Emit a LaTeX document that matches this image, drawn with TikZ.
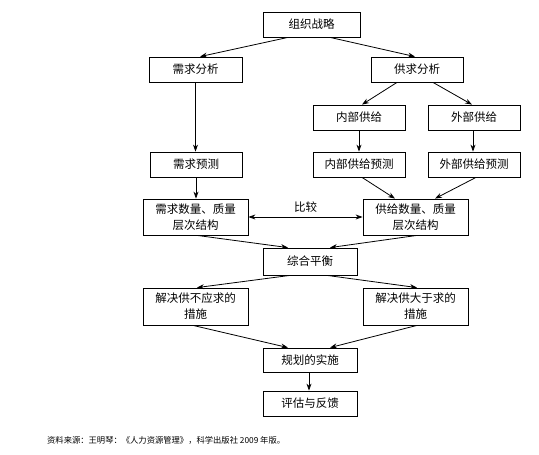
\documentclass[tikz,border=0pt]{standalone}
\usepackage{fontspec}
\newfontfamily\cjk{Noto Sans CJK SC}
\usetikzlibrary{arrows.meta,calc}
\begin{document}
\begin{tikzpicture}[x=1pt,y=-1pt,
  box/.style={draw=black,line width=0.8pt,fill=white,inner sep=0pt,align=center,
    font=\cjk\fontsize{11.5}{16}\selectfont,minimum height=25pt},
  arr/.style={draw=black,line width=0.8pt,-{Stealth[length=7pt,width=5pt]}},
  darr/.style={draw=black,line width=0.8pt,{Stealth[length=7pt,width=5pt]}-{Stealth[length=7pt,width=5pt]}}]
\useasboundingbox[fill=white] (0,0) rectangle (539,455);
% boxes
\node[box,minimum width=97pt] (zlzl) at (311.5,24.5) {组织战略};
\node[box,minimum width=93pt] (xqfx) at (195.5,69.5) {需求分析};
\node[box,minimum width=92pt] (gqfx) at (417,69.5) {供求分析};
\node[box,minimum width=92pt] (nbgj) at (359,117.5) {内部供给};
\node[box,minimum width=92pt] (wbgj) at (474,117.5) {外部供给};
\node[box,minimum width=92pt] (xqyc) at (196,164.5) {需求预测};
\node[box,minimum width=92pt] (nbyc) at (359,164.5) {内部供给预测};
\node[box,minimum width=92pt] (wbyc) at (474,164.5) {外部供给预测};
\node[box,minimum width=105pt,minimum height=36pt] (xqsl) at (195.5,217) {需求数量、质量\\层次结构};
\node[box,minimum width=105pt,minimum height=36pt] (gjsl) at (415.5,217) {供给数量、质量\\层次结构};
\node[box,minimum width=94pt,minimum height=27pt] (zhph) at (310,261.5) {综合平衡};
\node[box,minimum width=105pt,minimum height=37pt] (jjA) at (195.5,306.5) {解决供不应求的\\措施};
\node[box,minimum width=105pt,minimum height=37pt] (jjB) at (415.5,306.5) {解决供大于求的\\措施};
\node[box,minimum width=94pt,minimum height=24pt] (ghss) at (310,360) {规划的实施};
\node[box,minimum width=94pt] (pgfk) at (310,403.5) {评估与反馈};
% connectors
\draw[arr] ([xshift=-23.5pt]zlzl.south) -- ([xshift=4.5pt]xqfx.north);
\draw[arr] ([xshift=18.5pt]zlzl.south) -- ([xshift=-2pt]gqfx.north);
\draw[arr] (xqfx.south) -- (xqfx.south |- xqyc.north);
\draw[arr] ([xshift=-20pt]gqfx.south) -- ([xshift=3pt]nbgj.north);
\draw[arr] ([xshift=16pt]gqfx.south) -- ([xshift=-2pt]wbgj.north);
\draw[arr] (nbgj.south) -- (nbyc.north);
\draw[arr] ([xshift=-1pt]wbgj.south) -- ([xshift=-1pt]wbyc.north);
\draw[arr] (xqyc.south) -- (xqyc.south |- xqsl.north);
\draw[arr] ([xshift=3pt]nbyc.south) -- ([xshift=-20.5pt]gjsl.north);
\draw[arr] ([xshift=2pt]wbyc.south) -- ([xshift=19.5pt]gjsl.north);
\draw[darr] (xqsl.east) -- node[above=1pt,font=\cjk\fontsize{11.5}{14}\selectfont] (bj) {比较} (gjsl.west);
\draw[arr] ([xshift=1.5pt]xqsl.south) -- ([xshift=-22pt]zhph.north);
\draw[arr] ([xshift=1.5pt]gjsl.south) -- ([xshift=20pt]zhph.north);
\draw[arr] ([xshift=-20pt]zhph.south) -- ([xshift=1.5pt]jjA.north);
\draw[arr] ([xshift=17pt]zhph.south) -- ([xshift=1.5pt]jjB.north);
\draw[arr] ([xshift=-2.5pt]jjA.south) -- ([xshift=-22pt]ghss.north);
\draw[arr] ([xshift=1.5pt]jjB.south) -- ([xshift=20pt]ghss.north);
\draw[arr] ([xshift=-1pt]ghss.south) -- ([xshift=-1pt]pgfk.north);
% caption
\node[anchor=west,inner sep=0pt,font=\cjk\fontsize{8.3}{10}\selectfont] (src) at (47,440.5) {资料来源：王明琴：《人力资源管理》，科学出版社 2009 年版。};
\end{tikzpicture}
\end{document}
